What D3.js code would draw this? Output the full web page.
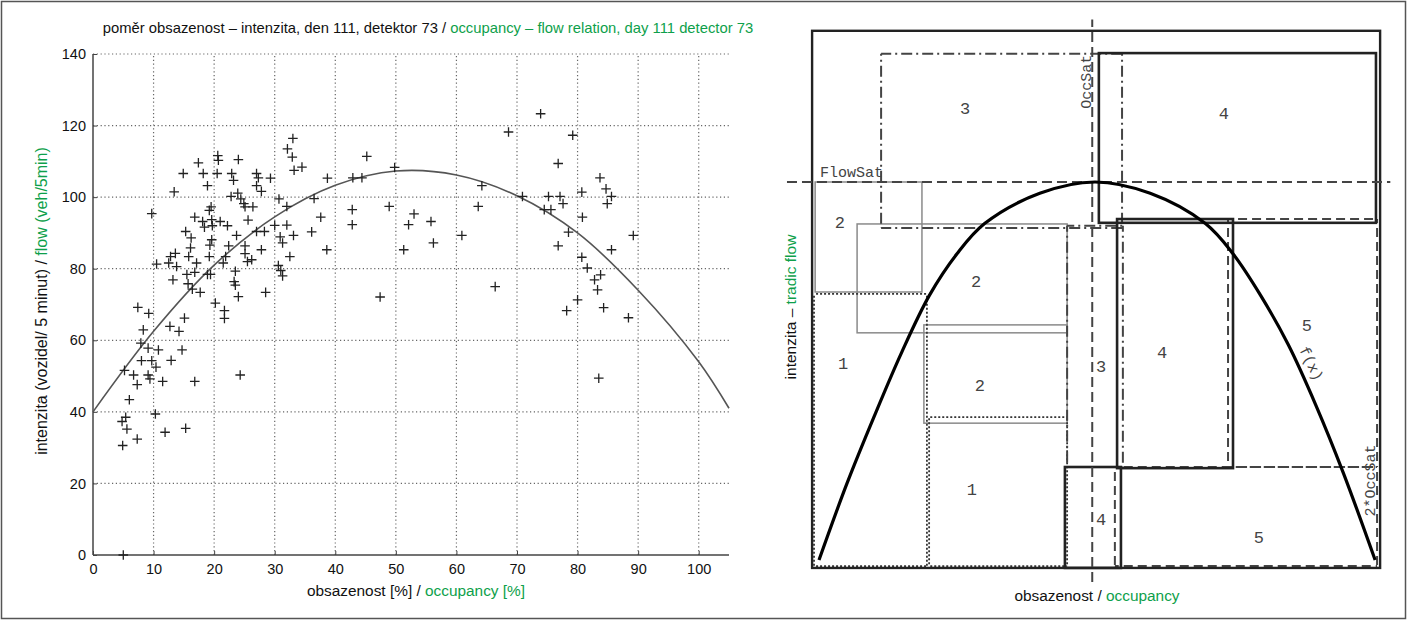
<!DOCTYPE html>
<html><head><meta charset="utf-8">
<script src="https://cdn.jsdelivr.net/npm/d3@7"></script>
<style>body{margin:0;background:#fff} svg{display:block}</style>
</head><body>
<svg id="c" width="1413" height="622"></svg>
<script>
// ---------- left chart data ----------
const xTicks = [0,10,20,30,40,50,60,70,80,90,100];
const yTicks = [0,20,40,60,80,100,120,140];
const occ = [33.0,32.1,32.9,33.2,34.5,38.7,20.6,20.7,24.0,17.4,14.9,18.2,20.5,22.9,23.2,18.9,27.0,27.3,29.3,27.0,27.8,13.4,22.8,23.9,24.4,24.9,25.1,26.4,30.7,32.0,36.5,37.6,36.1,38.6,30.0,32.0,33.1,30.9,31.3,32.5,28.3,27.0,9.7,19.5,19.2,16.8,18.1,19.6,21.0,22.2,18.4,19.7,25.6,23.7,19.6,15.3,16.2,16.1,19.3,22.4,25.1,27.8,15.8,13.6,12.8,12.5,10.5,13.8,17.1,19.2,21.9,25.1,25.5,26.2,21.5,23.5,16.8,15.5,13.2,18.9,19.4,15.7,16.4,17.7,23.3,23.5,24.0,28.5,30.6,31.0,31.3,20.2,21.7,21.7,15.1,7.4,9.2,12.7,8.3,
14.2,7.9,9.1,10.8,14.7,8.0,9.7,12.9,10.4,5.2,6.7,9.1,9.4,7.3,11.5,16.8,24.3,6.0,10.3,5.4,4.8,5.6,11.9,15.3,7.3,4.9,5.0,
73.9,68.6,79.2,45.2,49.8,76.8,42.9,44.4,64.2,70.9,75.2,77.1,77.6,74.5,75.6,80.7,83.7,84.7,85.6,84.9,80.8,42.8,42.8,48.9,53.0,52.1,55.8,56.2,51.3,60.9,63.6,89.2,78.5,76.8,85.6,80.7,81.6,83.8,82.8,83.3,66.4,47.4,80.0,78.2,84.3,88.4,83.5];
const flow = [116.4,113.5,111.2,107.5,108.4,105.3,111.6,110.3,110.5,109.6,106.6,106.6,106.6,106.6,104.7,103.2,106.6,105.4,105.3,103.2,101.6,101.5,100.2,101.1,99.5,98.2,97.3,97.3,99.5,97.4,99.6,94.4,90.3,85.3,92.1,92.2,89.3,88.9,87.2,83.4,90.4,90.4,95.4,97.3,96.3,94.4,93.2,93.7,93.2,92.0,91.6,92.0,93.6,89.3,88.1,90.4,88.6,85.8,86.6,86.4,86.4,85.3,83.4,84.3,83.4,81.6,81.3,80.6,81.6,83.4,83.4,84.2,82.0,82.5,81.6,79.3,79.0,78.4,76.9,78.4,78.4,75.8,74.3,73.4,76.4,75.4,72.2,73.4,80.9,79.5,78.0,70.4,68.3,66.1,66.2,69.2,67.5,63.9,62.9,
62.5,59.2,57.8,57.3,57.3,54.3,54.3,54.4,52.5,51.6,50.3,50.3,49.2,47.6,48.5,48.5,50.3,43.4,39.4,38.5,37.3,35.2,34.3,35.4,32.4,30.6,0,
123.3,118.2,117.3,111.4,108.3,109.4,105.4,105.4,103.2,100.2,100.2,100.2,98.2,96.5,96.5,101.4,105.4,102.3,100.2,98.2,94.4,96.5,92.3,97.4,95.3,92.3,93.2,87.2,85.3,89.3,97.4,89.3,90.2,86.4,85.3,83.2,80.2,78.3,76.9,74.1,75.0,72.1,71.3,68.3,69.1,66.3,49.4];
const fitOcc  = [0,10,20,30,40,50,60,70,80,90,100,105];
const fitFlow = [40,62.5,81,94.5,103.3,107.3,106.2,100.4,90,74,54,41];

// ---------- right diagram data (occupancy in OccSat units, flow in FlowSat units) ----------
const curveOcc  = [0,0.1,0.2,0.3,0.4,0.5,0.6,0.8,1.0,1.2,1.4,1.5,1.6,1.7,1.8,1.9,2.015];
const curveFlow = [0,0.2,0.38,0.55,0.70,0.81,0.89,0.97,1.0,0.97,0.89,0.81,0.70,0.57,0.41,0.23,0];
const frameBox   = [-0.025, 2.033, -0.021, 1.40];
const occSatLine = [0.99, -0.058, 1.43];
const flowSatLine = [1.0, -0.116, 2.07];
// rects: [occ0, occ1, flow0, flow1]
const thickRects   = [[1.014,2.018,0.892,1.341],[1.080,1.500,0.243,0.902],[0.891,1.094,-0.021,0.246]];
const grayRects    = [[-0.014,0.373,0.709,1.0],[0.138,0.899,0.601,0.889],[0.380,0.899,0.362,0.622]];
const dottedRects  = [[-0.018,0.391,-0.016,0.704],[0.399,0.899,-0.016,0.378]];
const dashedRects  = [[1.482,2.022,0.246,0.902],[1.072,2.022,-0.016,0.246]];
const dashDotRects = [[0.225,1.098,0.878,1.339],[0.899,1.101,0.246,0.884]];
const regionText = ["3","4","2","2","1","2","3","4","5","1","4","5"];
const regionOcc  = [0.529,1.467,0.076,0.569,0.087,0.583,1.022,1.243,1.768,0.554,1.022,1.594];
const regionFlow = [1.196,1.183,0.894,0.738,0.521,0.463,0.513,0.550,0.622,0.188,0.108,0.061];

const GREEN = "#0e9f4b";
const FONT = "'Liberation Sans',Arial,sans-serif";
const MONO = "'Liberation Mono','Courier New',monospace";
const svg = d3.select("#c");

svg.append("rect").attr("x",1.5).attr("y",1.5).attr("width",1404).attr("height",617)
  .attr("fill","none").attr("stroke","#555").attr("stroke-width",1.5);

// ---------- left chart ----------
const x = d3.scaleLinear().domain([0,105]).range([93,729]);
const y = d3.scaleLinear().domain([0,140]).range([555,54]);
const L = svg.append("g");

L.selectAll(".vg").data(xTicks.filter(d=>d>0)).join("line")
  .attr("x1",d=>x(d)).attr("x2",d=>x(d)).attr("y1",y(0)).attr("y2",y(140))
  .attr("stroke","#666").attr("stroke-width",1.2).attr("stroke-dasharray","1.2,2.6");
L.selectAll(".hg").data(yTicks.filter(d=>d>0)).join("line")
  .attr("x1",x(0)).attr("x2",x(105)).attr("y1",d=>y(d)).attr("y2",d=>y(d))
  .attr("stroke","#666").attr("stroke-width",1.2).attr("stroke-dasharray","1.2,2.6");

const ax = L.append("g").attr("transform",`translate(0,${y(0)})`)
  .call(d3.axisBottom(x).tickValues(xTicks).tickSize(-4).tickPadding(9).tickSizeOuter(0));
const ay = L.append("g").attr("transform",`translate(${x(0)},0)`)
  .call(d3.axisLeft(y).tickValues(yTicks).tickSize(-4).tickPadding(7).tickSizeOuter(0));
[ax,ay].forEach(g=>{
  g.select(".domain").remove();
  g.selectAll("line").attr("stroke","#444");
  g.selectAll("text").attr("font-family",FONT).attr("font-size",14.5).attr("fill","#111");
});
L.append("line").attr("x1",x(0)).attr("x2",x(0)).attr("y1",y(0)).attr("y2",y(140)).attr("stroke","#444").attr("stroke-width",1.5);
L.append("line").attr("x1",x(0)).attr("x2",x(105)).attr("y1",y(0)).attr("y2",y(0)).attr("stroke","#444").attr("stroke-width",1.5);

L.append("path").datum(fitOcc.map((d,i)=>[d,fitFlow[i]]))
  .attr("d",d3.line().x(d=>x(d[0])).y(d=>y(d[1])).curve(d3.curveCatmullRom))
  .attr("fill","none").attr("stroke","#555").attr("stroke-width",1.6);

const pts = occ.map((d,i)=>[d,flow[i]]);
const cs = 4.8;
L.selectAll(".pt").data(pts).join("path")
  .attr("d",d=>{const px=x(d[0]),py=y(d[1]);return `M${px-cs},${py}H${px+cs}M${px},${py-cs}V${py+cs}`;})
  .attr("stroke","#222").attr("stroke-width",1.3).attr("fill","none");

const t1 = L.append("text").attr("x",428).attr("y",33).attr("text-anchor","middle")
  .attr("font-family",FONT).attr("font-size",14.8).attr("fill","#111");
t1.append("tspan").text("poměr obsazenost – intenzita, den 111, detektor 73 / ");
t1.append("tspan").attr("fill",GREEN).text("occupancy – flow relation, day 111 detector 73");

const t2 = L.append("text").attr("x",416).attr("y",596).attr("text-anchor","middle")
  .attr("font-family",FONT).attr("font-size",15.4).attr("fill","#111");
t2.append("tspan").text("obsazenost [%] / ");
t2.append("tspan").attr("fill",GREEN).text("occupancy [%]");

const t3 = L.append("text").attr("transform","translate(47,301) rotate(-90)").attr("text-anchor","middle")
  .attr("font-family",FONT).attr("font-size",16).attr("fill","#111");
t3.append("tspan").text("intenzita (vozidel/ 5 minut) / ");
t3.append("tspan").attr("fill",GREEN).text("flow (veh/5min)");

// ---------- right diagram ----------
const rx = d3.scaleLinear().domain([0,2]).range([819,1371]);
const ry = d3.scaleLinear().domain([0,1]).range([560,182]);
const R = svg.append("g");
function rects(data, stroke, width){
  R.selectAll(null).data(data).join("rect")
    .attr("x",d=>rx(d[0])).attr("y",d=>ry(d[3]))
    .attr("width",d=>rx(d[1])-rx(d[0])).attr("height",d=>ry(d[2])-ry(d[3]))
    .attr("fill","none").attr("stroke",stroke).attr("stroke-width",width);
}
// patterned rects drawn edge by edge, dash phase anchored to absolute position so overlaps align
function patRects(data, stroke, width, dash){
  const edges = [];
  data.forEach(d=>{
    const X0=rx(d[0]),X1=rx(d[1]),Y0=ry(d[3]),Y1=ry(d[2]);
    edges.push([X0,Y0,X1,Y0],[X0,Y1,X1,Y1],[X0,Y0,X0,Y1],[X1,Y0,X1,Y1]);
  });
  R.selectAll(null).data(edges).join("line")
    .attr("x1",e=>e[0]).attr("y1",e=>e[1]).attr("x2",e=>e[2]).attr("y2",e=>e[3])
    .attr("stroke",stroke).attr("stroke-width",width).attr("stroke-dasharray",dash)
    .attr("stroke-dashoffset",e=> e[1]===e[3] ? -e[0] : -e[1]);
}
rects(grayRects,"#8a8a8a",1.5);
patRects(dottedRects,"#333",1.8,"2,2");
patRects(dashedRects,"#444",2,"9,5");
patRects(dashDotRects,"#444",2,"11,4,2,4");
rects(thickRects,"#222",2.6);
rects([frameBox],"#222",2.4);

R.append("line").attr("x1",rx(occSatLine[0])).attr("x2",rx(occSatLine[0]))
  .attr("y1",ry(occSatLine[1])).attr("y2",ry(occSatLine[2]))
  .attr("stroke","#444").attr("stroke-width",2).attr("stroke-dasharray","10,5");
R.append("line").attr("y1",ry(flowSatLine[0])).attr("y2",ry(flowSatLine[0]))
  .attr("x1",rx(flowSatLine[1])).attr("x2",rx(flowSatLine[2]))
  .attr("stroke","#444").attr("stroke-width",2).attr("stroke-dasharray","10,5");

R.append("path").datum(curveOcc.map((d,i)=>[d,curveFlow[i]]))
  .attr("d",d3.line().x(d=>rx(d[0])).y(d=>ry(d[1])).curve(d3.curveCatmullRom))
  .attr("fill","none").attr("stroke","#000").attr("stroke-width",3.2);

R.selectAll(".rl").data(regionText).join("text")
  .attr("x",(d,i)=>rx(regionOcc[i])).attr("y",(d,i)=>ry(regionFlow[i]))
  .attr("dy","0.35em").attr("text-anchor","middle")
  .attr("font-family",MONO).attr("font-size",17).attr("fill","#444").text(d=>d);

R.append("text").attr("x",rx(0.004)).attr("y",ry(1.0)-5)
  .attr("font-family",MONO).attr("font-size",15).attr("fill","#444").text("FlowSat");
R.append("text").attr("transform",`translate(${rx(occSatLine[0])-1},${ry(1.265)}) rotate(-90)`)
  .attr("text-anchor","middle").attr("font-family",MONO).attr("font-size",15).attr("fill","#444").text("OccSat");
R.append("text").attr("transform",`translate(${rx(2.0)+4},${ry(0.21)}) rotate(-90)`)
  .attr("text-anchor","middle").attr("font-family",MONO).attr("font-size",15).attr("fill","#444").text("2*OccSat");
R.append("text").attr("transform",`translate(${rx(1.785)},${ry(0.52)}) rotate(64)`)
  .attr("text-anchor","middle").attr("dy","0.35em").attr("font-family",MONO).attr("font-size",15).attr("fill","#444").text("f(x)");

const t4 = R.append("text").attr("x",1097).attr("y",601).attr("text-anchor","middle")
  .attr("font-family",FONT).attr("font-size",15.4).attr("fill","#111");
t4.append("tspan").text("obsazenost / ");
t4.append("tspan").attr("fill",GREEN).text("occupancy");
const t5 = R.append("text").attr("transform","translate(796,307) rotate(-90)").attr("text-anchor","middle")
  .attr("font-family",FONT).attr("font-size",15.5).attr("fill","#111");
t5.append("tspan").text("intenzita – ");
t5.append("tspan").attr("fill",GREEN).text("tradic flow");
</script>
</body></html>
